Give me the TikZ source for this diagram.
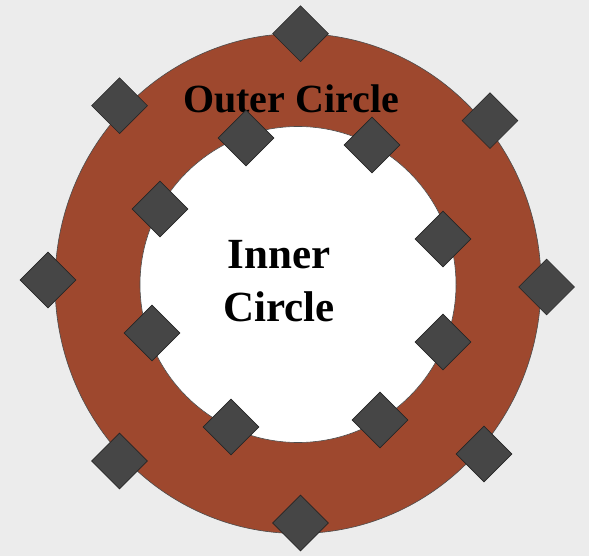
\documentclass[tikz,border=0pt]{standalone}
\usepackage{fontspec}
\setmainfont{Liberation Serif}
\usetikzlibrary{shapes.geometric}
\definecolor{bg}{RGB}{236,236,236}
\definecolor{ringbrown}{RGB}{158,72,46}
\definecolor{diam}{RGB}{70,70,70}
\tikzset{
  gem/.style={diamond, draw=black!85, line width=0.6pt, fill=diam, minimum width=56pt, minimum height=56pt, inner sep=0pt},
  lbl/.style={font=\bfseries, text=black, align=center}
}
\begin{document}
\begin{tikzpicture}[x=1pt,y=-1pt]
\fill[bg] (0,0) rectangle (589,556);
\useasboundingbox (0,0) rectangle (589,556);
\draw[fill=ringbrown, draw=black!70, line width=0.6pt] (298,283.5) ellipse [x radius=243, y radius=250];
\draw[fill=white, draw=black!70, line width=0.6pt] (298,284.5) circle [radius=158];
% outer diamonds
\node[gem] (o1) at (300.5,33.7) {};
\node[gem] (o2) at (119.5,105.7) {};
\node[gem] (o3) at (490,120.6) {};
\node[gem] (o4) at (48,280) {};
\node[gem] (o5) at (546.6,287) {};
\node[gem] (o6) at (119.5,461) {};
\node[gem] (o7) at (484,454) {};
\node[gem] (o8) at (300.5,523) {};
% text
\node[lbl, font=\bfseries\fontsize{40}{44}\selectfont] (outer) at (291,99) {Outer Circle};
% inner diamonds
\node[gem] (i1) at (246,138) {};
\node[gem] (i2) at (372,145) {};
\node[gem] (i3) at (160,209) {};
\node[gem] (i4) at (443,239) {};
\node[gem] (i5) at (152,333) {};
\node[gem] (i6) at (443,342) {};
\node[gem] (i7) at (231,427) {};
\node[gem] (i8) at (380,420) {};
\node[lbl, font=\bfseries\fontsize{43}{53}\selectfont] (inner) at (279,281) {Inner\\Circle};
\end{tikzpicture}
\end{document}
